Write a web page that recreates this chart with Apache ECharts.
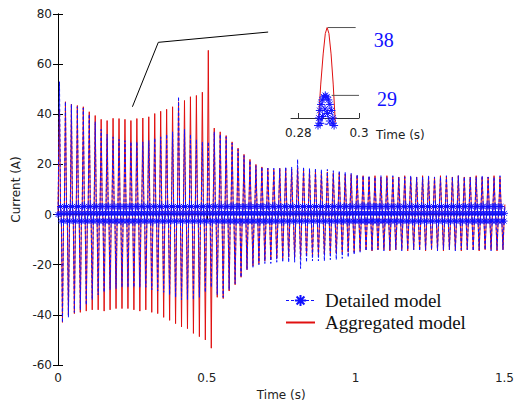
<!DOCTYPE html>
<html><head><meta charset="utf-8">
<script src="https://cdn.jsdelivr.net/npm/echarts@6/dist/echarts.min.js"></script>
<style>html,body{margin:0;padding:0;background:#fff}#c{width:517px;height:406px}</style>
</head><body><div id="c"></div>
<script>
// ---- data ----
const period = 0.02; // 50 Hz waveform, one entry per cycle below
const xTicks = [0, 0.5, 1, 1.5];
const yTicks = [-60, -40, -20, 0, 20, 40, 60, 80];
const insetTicks = [0.28, 0.3];

// Aggregated model (red) positive / negative peaks per cycle
const aggUpper = [42,45,44,43.5,43,41,39.5,38,37.5,38.4,
  38.3,38,37.5,38.3,38.5,39,40.3,41.2,42,43,
  45,45.5,47,47.5,48.8,65.5,34.5,33,31.5,29,
  26.5,24,22,20,19,18.5,18,18.5,18.5,18,
  18.5,18,17.5,17.5,17,17,16.5,16.5,16,16,
  15.5,15.5,15,15.5,15,15.5,15,15,15.5,15,
  15,15.5,15,15,15.5,15,15,15.5,15,15,
  15.5,15,15,15.5,15];
const aggLower = [-43,-40,-39.5,-39,-38.5,-38,-38,-38.5,-38,-37.5,
  -37.5,-37.5,-38,-38.5,-38,-39,-39.5,-41,-42.2,-43.5,
  -44.8,-45.5,-47.4,-48.7,-50,-53.3,-33,-33.5,-30.5,-28,
  -25,-22,-20.5,-19.5,-18.5,-18,-17.5,-17.5,-17,-17,
  -17,-16.5,-16.5,-16,-16,-15.5,-15.5,-15,-15,-15,
  -14.5,-14,-14.5,-14,-14,-14.5,-14,-14,-14.5,-14,
  -14,-14.5,-14,-14,-14.5,-14,-14,-14.5,-14,-14,
  -14.5,-14,-14,-14.5,-14];
// Detailed model (blue) positive / negative peaks per cycle
const detUpper = [53,45,44,43,42.5,40,37,34,32,31,
  30,29.5,29,29,29,29.5,30.5,31,32,33,
  47,34,32,30,29,29,33,32,31,28.5,
  26,23.5,21.5,19.5,19,18.5,18.5,18.5,19,19,
  22,19,18.5,18.5,18,18,17.5,17.5,17,16.5,
  16,15.5,15.5,15,15.5,15,15.5,15,15,15.5,
  15,15,15.5,15,15,15.5,15,15.5,15,15,
  15,15.5,15,15,15.5];
const detLower = [-43,-41,-39,-38,-36,-34,-32,-31,-30,-29.5,
  -29,-29,-29,-29,-29,-30,-30.5,-31,-32,-33,
  -34,-34,-34,-33,-31,-29,-32,-33,-30,-27.5,
  -25,-22,-21,-20,-19.5,-19.5,-19,-19,-19,-19,
  -21.5,-19,-18.5,-18.5,-18.5,-18,-18,-17.5,-17,-16,
  -15,-14.5,-14.5,-14,-14.5,-14,-14,-14.5,-14,-14,
  -14.5,-14,-14,-14.5,-14,-14,-14.5,-14,-14,-14.5,
  -14,-14,-14.5,-14,-14];
// near-zero band levels of each trace (top, middle, bottom)
const aggBand = [4, 0.5, -3.5];
const detBand = [3.2, 0.5, -2.6];

// pointer line from the main trace to the inset
const pointerLine = [[0.25, 43], [0.337, 68.7], [0.706, 72.8]];

// inset (zoom around t = 0.29 s)
const insetAgg = [[0.2866,25.4],[0.2874,30.5],[0.2882,34.5],[0.2889,37.2],[0.2895,38],
  [0.2901,37.2],[0.2908,34.5],[0.2915,30.5],[0.2922,25.4]];
const insetDet = [[0.2865,25.0],[0.2868,26.0],[0.2871,27.0],[0.2875,27.8],[0.2879,28.4],
  [0.2884,28.8],[0.2889,29.0],[0.2894,28.8],[0.2899,28.4],[0.2904,27.8],
  [0.2909,27.0],[0.2914,26.0],[0.2918,25.0],[0.2872,25.3],[0.2880,26.2],
  [0.2888,27.2],[0.2896,26.6],[0.2904,25.6],[0.2912,25.3]];
const peakAgg = 38, peakDet = 29;
const markAgg = [[0.2897, peakAgg], [0.2989, peakAgg]];
const markDet = [[0.2910, peakDet], [0.3, peakDet]];

// ---- build traces ----
function build(upper, lower, band, hideSym) {
  const pts = [[0, 0]];
  const pk = (t, v) => hideSym ? {value: [t, v], symbol: 'none'} : [t, v];
  for (let k = 0; k < upper.length; k++) {
    const t0 = k * period;
    pts.push(pk(t0 + 0.005, upper[k]));
    pts.push([t0 + 0.0085, band[0]]);
    pts.push([t0 + 0.0100, band[1]]);
    pts.push([t0 + 0.0115, band[2]]);
    pts.push(pk(t0 + 0.015, lower[k]));
    pts.push([t0 + 0.0185, band[2]]);
    pts.push([t0 + 0.0200, band[1]]);
    pts.push([t0 + 0.0215, band[0]]);
  }
  return pts;
}

const RED = '#e01010', BLUE = '#1010ff';
const asterisk = 'path://M5,0L5,10M0,5L10,5M1.5,1.5L8.5,8.5M1.5,8.5L8.5,1.5';
const sans = 'DejaVu Sans';
const serif = 'Liberation Serif';

const chart = echarts.init(document.getElementById('c'), null, {renderer: 'svg'});
const axisCommon = {
  axisLine: {lineStyle: {color: '#000', width: 1}},
  axisTick: {inside: true, length: 5, lineStyle: {color: '#000'}},
  splitLine: {show: false},
  axisLabel: {color: '#222', fontFamily: sans, fontSize: 12}
};
const markLabel = (txt, dy) => ({show: true, formatter: txt, distance: 18, offset: [0, dy],
  color: BLUE, fontFamily: serif, fontSize: 20});
chart.setOption({
  animation: false,
  backgroundColor: '#fff',
  grid: [
    {left: 58, top: 14, width: 450, height: 357},
    {left: 291, top: 20, width: 68, height: 98}
  ],
  xAxis: [
    Object.assign({}, axisCommon, {type: 'value', gridIndex: 0, min: xTicks[0], max: xTicks[xTicks.length-1], interval: 0.5,
      axisLabel: Object.assign({}, axisCommon.axisLabel, {margin: 7}),
      name: 'Time (s)', nameLocation: 'middle', nameGap: 24,
      nameTextStyle: {color: '#222', fontFamily: sans, fontSize: 12}}),
    Object.assign({}, axisCommon, {type: 'value', gridIndex: 0, position: 'top', min: 0, max: 1.5, interval: 0.5,
      axisLabel: {show: false}}),
    {type: 'value', gridIndex: 1, min: 0.2776, max: 0.3,
      axisLine: {lineStyle: {color: '#333'}},
      axisTick: {inside: true, length: 5, customValues: insetTicks, lineStyle: {color: '#333'}},
      axisLabel: {customValues: insetTicks, color: '#222', fontFamily: sans, fontSize: 12, margin: 9,
        formatter: v => String(+v.toFixed(2))},
      splitLine: {show: false},
      name: 'Time (s)', nameLocation: 'end', nameGap: 17,
      nameTextStyle: {color: '#222', fontFamily: sans, fontSize: 12, verticalAlign: 'top', padding: [11, 0, 0, 0]}}
  ],
  yAxis: [
    Object.assign({}, axisCommon, {type: 'value', gridIndex: 0, min: yTicks[0], max: yTicks[yTicks.length-1], interval: 20,
      axisLabel: Object.assign({}, axisCommon.axisLabel, {margin: 6}),
      name: 'Current (A)', nameLocation: 'middle', nameGap: 34,
      nameTextStyle: {color: '#222', fontFamily: sans, fontSize: 12}}),
    Object.assign({}, axisCommon, {type: 'value', gridIndex: 0, position: 'right', min: -60, max: 80, interval: 20,
      axisLabel: {show: false}}),
    {type: 'value', gridIndex: 1, min: 26, max: 39, show: false}
  ],
  legend: {
    orient: 'vertical', left: 280, top: 286, itemWidth: 29, itemHeight: 14, itemGap: 3,
    data: [
      {name: 'Detailed model', lineStyle: {width: 1}},
      {name: 'Aggregated model', itemStyle: {color: 'rgba(0,0,0,0)', borderColor: 'rgba(0,0,0,0)', borderWidth: 0}}
    ],
    textStyle: {fontFamily: serif, fontSize: 19, color: '#111', padding: [0, 0, 0, 5]},
    selectedMode: false
  },
  series: [
    {name: 'Aggregated model', type: 'line', xAxisIndex: 0, yAxisIndex: 0, data: build(aggUpper, aggLower, aggBand, false),
      showSymbol: false, symbol: 'none', color: RED, lineStyle: {color: RED, width: 1}, z: 2, silent: true},
    {name: 'Detailed model', type: 'line', xAxisIndex: 0, yAxisIndex: 0, data: build(detUpper, detLower, detBand, true),
      symbol: asterisk, symbolSize: 7, color: BLUE,
      itemStyle: {color: 'none', borderColor: BLUE, borderWidth: 1},
      lineStyle: {color: BLUE, width: 1, type: [3, 2]}, z: 3, silent: true},
    {name: 'pointer', type: 'line', xAxisIndex: 0, yAxisIndex: 0, data: pointerLine, symbol: 'none',
      lineStyle: {color: '#000', width: 1}, z: 4, silent: true},
    {name: 'insetAgg', type: 'line', xAxisIndex: 2, yAxisIndex: 2, data: insetAgg, symbol: 'none', clip: false,
      lineStyle: {color: RED, width: 1}, z: 4, silent: true},
    {name: 'insetDet', type: 'line', xAxisIndex: 2, yAxisIndex: 2, data: insetDet, symbol: asterisk, symbolSize: 8, clip: false,
      itemStyle: {color: 'none', borderColor: BLUE, borderWidth: 1},
      lineStyle: {color: BLUE, width: 1, type: [3, 2]}, z: 5, silent: true},
    {name: 'markAgg', type: 'line', xAxisIndex: 2, yAxisIndex: 2, symbol: 'none', clip: false,
      data: markAgg, endLabel: markLabel(String(peakAgg), 12),
      lineStyle: {color: '#555', width: 1}, z: 4, silent: true},
    {name: 'markDet', type: 'line', xAxisIndex: 2, yAxisIndex: 2, symbol: 'none', clip: false,
      data: markDet, endLabel: markLabel(String(peakDet), 4),
      lineStyle: {color: '#555', width: 1}, z: 6, silent: true}
  ]
});
</script></body></html>
